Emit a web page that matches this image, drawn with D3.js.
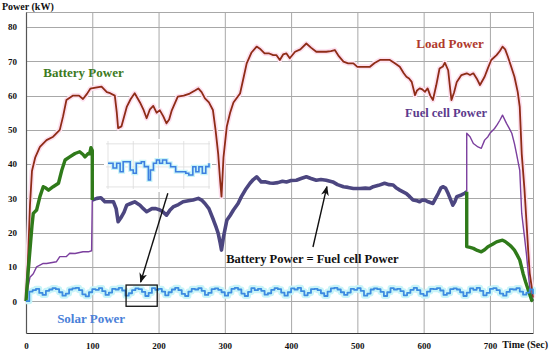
<!DOCTYPE html>
<html>
<head>
<meta charset="utf-8">
<script src="https://cdn.jsdelivr.net/npm/d3@7"></script>
<style>
  body { margin: 0; background: #fff; }
  svg { display: block; font-family: "Liberation Serif", "Times New Roman", serif; font-weight: bold; }
</style>
</head>
<body>
<svg id="chart" width="550" height="354"></svg>
<script>
// --- data: [time (s), power (kW)] ---
const xTicks = [0, 100, 200, 300, 400, 500, 600, 700];
const yTicks = [0, 10, 20, 30, 40, 50, 60, 70, 80];

const loadPower = [[0,0],[3,12],[6,28],[9,38],[14,42],[21,45],[31,47],[41,48],[51,50],[56,54],[61,58.7],[71,60],[80,60],[86,59],[92,60.5],[97,62],[105,62.3],[114,62.6],[122,61],[127,60.7],[134,60],[137,55],[139,50.5],[144,51],[152,56.7],[158,59],[164,60.7],[172,58],[177,56],[182,53.4],[187,56],[192,57],[197,55],[202,55.7],[207,54],[212,51.9],[216,53],[220,55.7],[229,59.7],[238,60],[247,60.6],[255,61.5],[260,62.1],[265,61],[270,59.2],[276,58],[282,55.8],[286,50],[290,43],[293,35],[295,30.5],[298,42],[303,51],[308,55],[313,58],[323,60.6],[328,65],[333,69.4],[340,72.5],[348,74.3],[354,73.5],[360,72.3],[367,72.3],[373,71.8],[378,71.8],[383,70.4],[388,72],[393,72.3],[398,70.9],[406,72.8],[414,73.5],[423,75.2],[430,74],[438,72.8],[446,72.8],[453,72.8],[460,73],[466,73.3],[472,71.5],[479,69.9],[486,69.4],[494,69.4],[500,68.4],[509,68.4],[519,68.4],[526,69.5],[534,70.4],[542,70.4],[549,70.4],[556,69.5],[564,68.4],[570,66.5],[574,65.5],[578,65],[582,64],[587,60.1],[590,61.5],[594,62.1],[598,61.8],[602,61.1],[606,62.1],[610,60],[614,58.7],[619,63],[624,67.9],[629,68.5],[632,69.6],[637,67.4],[640,62],[642,58.7],[646,61],[650,64],[657,66],[665,66.5],[670,66],[675,66.5],[680,65],[685,63.1],[692,65.5],[697,68],[702,70.4],[710,71.8],[715,73],[719,74.3],[723,73.5],[727,71.4],[732,68.5],[737,65.5],[742,61],[745,56.7],[748,43],[752,33],[755,23.6],[758,14],[760,8.2],[763,4.2],[765,1]];

const batteryStart = [[0,0],[3,8],[6,15],[9,22],[11,25.6],[16,26.6],[21,30.5],[26,33.4],[30,33],[34,32.4],[41,33.4],[49,34.4],[54,38.2],[59,41.2],[66,42.1],[74,43.1],[81,43.6],[86,42.8],[89,42.1],[94,43.1],[96,43],[98,44.8],[100,44],[100,29.5]];
const batteryEnd = [[665,31.9],[665,15.9],[670,15.7],[675,15.4],[681,14.8],[687,14.4],[692,15],[697,15.9],[704,16.6],[710,17.3],[715,17.6],[719,17.8],[723,17.4],[727,16.8],[732,16],[737,14.9],[741,13.5],[745,12],[750,8.1],[754,5.5],[758,3.2],[763,0.3],[765,0]];

const fuelStart = [[0,0],[3,4],[6,7],[11,8],[16,10],[26,11],[31,11],[46,11.5],[51,13],[61,13],[66,14],[74,13.9],[86,14.4],[94,14.4],[99,14.7],[100,29.5]];
const fuelEnd = [[665,31.9],[665,49],[670,48],[675,46],[682,45],[687,44.6],[692,47],[697,48],[700,49],[707,50.4],[711,51.5],[715,52.8],[719,54.3],[725,51.9],[729,50.5],[733,49],[737,46],[740,43.1],[745,38.2],[748,25.6],[752,19],[755,13.9],[760,4.2],[763,1.3],[765,0]];

// battery power = fuel cell power between 100 s and 665 s
const sharedPower = [[100,29.5],[107,30],[113,30.2],[119,29],[132,29],[136,27],[139,23.2],[144,24.6],[148,26],[152,28],[158,28.5],[164,29],[172,28],[177,27],[182,26.1],[190,27],[196,27],[202,26.6],[207,26],[212,25.1],[217,26.5],[222,27.5],[230,28.2],[237,29],[245,29.3],[252,29.5],[260,30],[265,29.5],[270,28.5],[276,27],[283,23.6],[287,21.5],[290,19.8],[293,17],[295,14.9],[298,18.8],[303,23.6],[308,25],[313,26.6],[320,28.5],[325,30.5],[331,32.5],[338,34.4],[343,35.5],[348,36.3],[355,34.8],[362,34.8],[368,34.5],[373,34.4],[380,34.6],[387,35],[393,34.8],[400,35.2],[408,35.3],[415,35.8],[423,36.3],[430,35.8],[438,35.3],[445,35.5],[453,35.3],[463,34.8],[470,34],[479,33.4],[486,33.2],[494,32.9],[504,32.9],[512,33],[519,32.9],[524,33.4],[532,33.8],[541,34.4],[548,34],[554,33.9],[559,33],[564,32.4],[574,31.4],[579,30.5],[584,29.5],[590,29.3],[594,29],[598,29.5],[602,29.5],[607,29],[614,28.5],[618,30],[622,31.4],[626,33],[629,33.4],[633,33],[637,31.4],[641,29.5],[644,28],[647,29],[650,30.5],[657,31],[662,31.5],[665,31.9]];

// solar power, one sample every 5 s
const solarStep = 5;
const solarPower = [
  0, 2.8, 3.2, 3.6, 2.4, 1.8, 3.0, 3.4, 3.8, 3.5,
  2.6, 1.6, 2.2, 3.4, 3.7, 3.9, 3.2, 2.0, 1.4, 2.6,
  3.5, 3.3, 3.8, 2.9, 1.8, 2.5, 3.6, 3.4, 3.9, 3.1,
  1.6, 2.3, 3.2, 3.7, 3.5, 2.7, 1.5, 2.4, 3.8, 3.3,
  3.6, 2.8, 1.7, 2.6, 3.4, 3.9, 3.2, 2.1, 1.5, 2.8,
  3.6, 3.4, 3.8, 3.0, 1.8, 2.4, 3.5, 3.7, 3.3, 2.6,
  1.6, 2.5, 3.6, 3.9, 3.4, 2.2, 1.5, 2.7, 3.8, 3.2,
  3.6, 3.0, 1.9, 2.3, 3.3, 3.8, 3.5, 2.5, 1.6, 2.6,
  3.7, 3.4, 3.9, 2.9, 1.7, 2.4, 3.5, 3.6, 3.2, 2.3,
  1.5, 2.8, 3.7, 3.9, 3.4, 2.6, 1.8, 2.5, 3.6, 3.3,
  3.8, 3.0, 1.6, 2.2, 3.4, 3.7, 3.5, 2.7, 1.5, 2.6,
  3.8, 3.4, 3.6, 2.9, 1.7, 2.4, 3.3, 3.9, 3.2, 2.1,
  1.6, 2.8, 3.6, 3.5, 3.8, 3.1, 1.8, 2.3, 3.5, 3.7,
  3.4, 2.6, 1.5, 2.5, 3.7, 3.3, 3.9, 3.0, 1.7, 2.4,
  3.6, 3.8, 3.2, 2.2, 1.6, 2.7, 3.5, 3.4, 3.8, 2.8,
  1.9, 2.5, 3.4, 2.0
];

// zoomed solar detail shown in the inset (150 s - 200 s)
const insetSolar = [[150,3.37],[152.5,2.76],[154.3,3.37],[156,2.28],[157.5,3.58],[160,3.58],[161,2.5],[162.5,2.07],[164,3.37],[166.5,3.58],[168,2.94],[170,1.2],[171,2.5],[172.5,3.37],[174,3.8],[175.5,3.37],[177,3.8],[179,3.37],[181,2.93],[183.5,2.28],[186,2.28],[188.5,2.07],[190,1.85],[192,2.93],[193.5,2.28],[195,2.93],[196.7,2.07],[198.4,2.94],[200,3.37]];

// --- setup ---
const svg = d3.select("#chart");
const x = d3.scaleLinear().domain([0, 765]).range([26, 533]);
const y = d3.scaleLinear().domain([-9.3, 84.4]).range([333, 12]);

const line = d3.line().x(d => x(d[0])).y(d => y(d[1]));
const stepLine = d3.line().x(d => x(d[0])).y(d => y(d[1])).curve(d3.curveStepAfter);
const solarSeries = solarPower.map((v, i) => [i * solarStep, v]);

// grid
const grid = svg.append("g").attr("stroke", "#a8a8a8").attr("stroke-width", 1);
xTicks.slice(1).forEach(t => grid.append("line")
  .attr("x1", x(t) + 0.5).attr("x2", x(t) + 0.5).attr("y1", y.range()[1]).attr("y2", y.range()[0]));
yTicks.forEach(t => grid.append("line")
  .attr("x1", x.range()[0]).attr("x2", x.range()[1]).attr("y1", Math.round(y(t)) + 0.5).attr("y2", Math.round(y(t)) + 0.5));
grid.append("line").attr("x1", x.range()[0]).attr("x2", x.range()[1]).attr("y1", 12.5).attr("y2", 12.5);
grid.append("line").attr("x1", 533.5).attr("x2", 533.5).attr("y1", 12).attr("y2", 333);

// axes
const xAxis = svg.append("g")
  .attr("transform", `translate(0,${y.range()[0]})`)
  .call(d3.axisBottom(x).tickValues(xTicks).tickSize(0).tickPadding(10));
xAxis.select(".domain").attr("stroke", "#333").attr("stroke-width", 1.2);
xAxis.selectAll("text").attr("font-size", 9).attr("font-family", "Liberation Serif").attr("font-weight", "bold").attr("fill", "#111");

const yAxis = svg.append("g")
  .attr("transform", `translate(${x.range()[0]},0)`)
  .call(d3.axisLeft(y).tickValues(yTicks).tickSize(0).tickPadding(9));
yAxis.select(".domain").attr("stroke", "#555").attr("stroke-width", 1.2);
yAxis.selectAll("text").attr("font-size", 9).attr("font-family", "Liberation Serif").attr("font-weight", "bold").attr("fill", "#111");

svg.append("text").attr("x", 2).attr("y", 10).attr("font-size", 10).attr("fill", "#111").text("Power (kW)");
svg.append("text").attr("x", 548).attr("y", 348).attr("text-anchor", "end")
  .attr("font-size", 10).attr("fill", "#111").text("Time (Sec)");

// --- series ---
function drawPath(data, gen, color, width) {
  svg.append("path").datum(data).attr("d", gen)
    .attr("fill", "none").attr("stroke", color).attr("stroke-width", width)
    .attr("stroke-linejoin", "round");
}

// halos
drawPath(loadPower, line, "#fde0ef", 5);
drawPath(solarSeries, stepLine, "#c8f4f8", 6);

drawPath(loadPower, line, "#8e2c17", 1.8);
drawPath(fuelStart, line, "#7b3f9e", 1.4);
drawPath(fuelEnd, line, "#7b3f9e", 1.4);
drawPath(sharedPower, line, "#4c4680", 3.6);
drawPath(batteryStart, line, "#2f7a1a", 3.4);
drawPath(batteryEnd, line, "#2f7a1a", 3.4);
drawPath(solarSeries, stepLine, "#3d8be0", 1.8);

// --- inset with zoomed solar power ---
const insetX = d3.scaleLinear().domain([150, 200]).range([108, 209]);
const insetY = d3.scaleLinear().domain([-0.1, 6.4]).range([190, 140]);
const insetLine = d3.line().x(d => insetX(d[0])).y(d => insetY(d[1])).curve(d3.curveStepAfter);
const inset = svg.append("g");
inset.append("rect").attr("x", 104).attr("y", 139).attr("width", 108).attr("height", 53).attr("fill", "#fff");
const ig = inset.append("g").attr("stroke", "#dcdcdc").attr("stroke-width", 0.8);
[150, 162.5, 175, 187.5, 200].forEach(t => ig.append("line")
  .attr("x1", insetX(t)).attr("x2", insetX(t)).attr("y1", 141).attr("y2", 189));
[0.3, 2.9, 5.9].forEach(v => ig.append("line")
  .attr("x1", 106).attr("x2", 210).attr("y1", insetY(v)).attr("y2", insetY(v)));
inset.append("path").datum(insetSolar).attr("d", insetLine)
  .attr("fill", "none").attr("stroke", "#c8f4f8").attr("stroke-width", 4);
inset.append("path").datum(insetSolar).attr("d", insetLine)
  .attr("fill", "none").attr("stroke", "#3d7fe0").attr("stroke-width", 1.6);

// zoom box on the solar line
svg.append("rect")
  .attr("x", x(151)).attr("y", y(4.7))
  .attr("width", x(198) - x(151)).attr("height", y(-1.5) - y(4.7))
  .attr("fill", "none").attr("stroke", "#111").attr("stroke-width", 1.3);

// arrows
svg.append("defs").append("marker")
  .attr("id", "head").attr("viewBox", "0 0 10 10").attr("refX", 9).attr("refY", 5)
  .attr("markerWidth", 7).attr("markerHeight", 7).attr("orient", "auto")
  .append("path").attr("d", "M0,1 L10,5 L0,9 L3,5 Z").attr("fill", "#111");
const arrows = [
  { from: [214, 31.5], to: [173, 5.6] },
  { from: [433, 15.8], to: [454, 33.4] }
];
arrows.forEach(a => svg.append("line")
  .attr("x1", x(a.from[0])).attr("y1", y(a.from[1]))
  .attr("x2", x(a.to[0])).attr("y2", y(a.to[1]))
  .attr("stroke", "#111").attr("stroke-width", 1.4).attr("marker-end", "url(#head)"));

// series labels
const labels = [
  { text: "Battery Power", t: 26, p: 65.5, color: "#3d7a22", size: 13 },
  { text: "Load Power", t: 589, p: 73.8, color: "#b0392c", size: 13 },
  { text: "Fuel cell Power", t: 572, p: 53.7, color: "#5c3a8c", size: 12.5 },
  { text: "Solar Power", t: 47, p: -6.4, color: "#4a80d8", size: 13 },
  { text: "Battery Power = Fuel cell Power", t: 302, p: 11.1, color: "#111", size: 12.5 }
];
labels.forEach(l => svg.append("text")
  .attr("x", x(l.t)).attr("y", y(l.p))
  .attr("font-size", l.size).attr("fill", l.color).text(l.text));
</script>
</body>
</html>
